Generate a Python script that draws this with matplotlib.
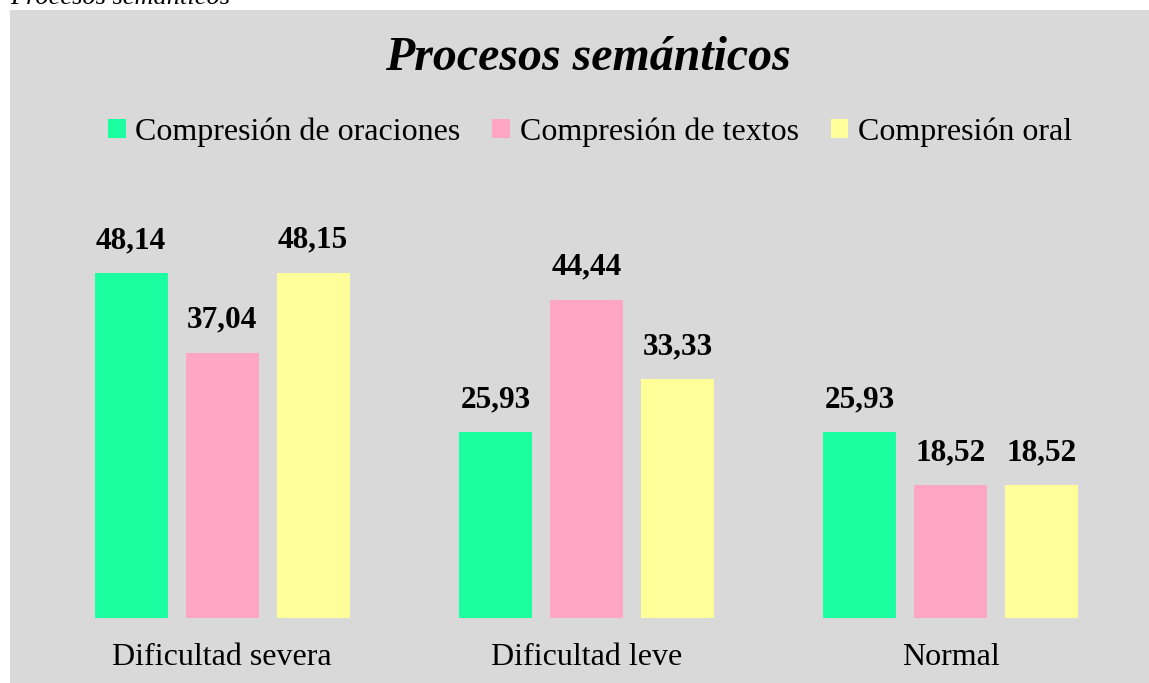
import numpy as np
import matplotlib.pyplot as plt
from matplotlib.patches import Rectangle

# ---- Data ----
categories = ["Dificultad severa", "Dificultad leve", "Normal"]
series_names = ["Compresión de oraciones", "Compresión de textos", "Compresión oral"]
oraciones = [48.14, 25.93, 25.93]
textos = [37.04, 44.44, 18.52]
oral = [48.15, 33.33, 18.52]

colors = ["#1CFFA0", "#FFA6C4", "#FFFF99"]
bg = "#D9D9D9"

plt.rcParams["font.family"] = ["Liberation Serif", "DejaVu Serif"]

W, H = 1149, 683
fig = plt.figure(figsize=(W / 100, H / 100), dpi=100)
fig.patch.set_facecolor("white")

# gray chart panel (leaves a white strip at left/top)
fig.patches.append(Rectangle((10 / W, 0), 1 - 10 / W, 1 - 10 / H,
                             transform=fig.transFigure, facecolor=bg,
                             edgecolor="none", zorder=-1))

# caption cut off at the top
fig.text(10 / W, 1 - 4 / H, "Procesos semánticos", fontsize=19,
         style="italic", va="baseline", ha="left")

# axes placement in pixels
left, right, bottom, top = 40, 1133, 65, 683 - 188
ax = fig.add_axes([left / W, bottom / H, (right - left) / W, (top - bottom) / H])
ax.set_facecolor("none")

x = np.arange(len(categories))
width = 0.2
step = 0.25
all_series = [oraciones, textos, oral]
for i, (vals, name, c) in enumerate(zip(all_series, series_names, colors)):
    bars = ax.bar(x + (i - 1) * step, vals, width, color=c, label=name)
    for b, v in zip(bars, vals):
        ax.annotate(f"{v:.2f}".replace(".", ","),
                    (b.get_x() + b.get_width() / 2, v),
                    xytext=(0, 13), textcoords="offset points",
                    ha="center", va="bottom", fontsize=22.5, fontweight="bold")

ax.set_xlim(-0.5, 2.5)
ax.set_ylim(0, 60)
ax.set_xticks(x)
ax.set_xticklabels(categories, fontsize=23)
ax.tick_params(axis="x", length=0, pad=18)
ax.set_yticks([])
for s in ax.spines.values():
    s.set_visible(False)

fig.text(588 / W, 1 - 58 / H, "Procesos semánticos", fontsize=34.5,
         fontweight="bold", style="italic", ha="center", va="center")

fig.legend(loc="center", bbox_to_anchor=(590 / W, 1 - 132 / H), ncol=3,
           frameon=False, fontsize=23, handlelength=0.55, handleheight=0.55,
           handletextpad=0.3, columnspacing=1.0)

fig.savefig("out.png", dpi=100, facecolor=fig.get_facecolor())
